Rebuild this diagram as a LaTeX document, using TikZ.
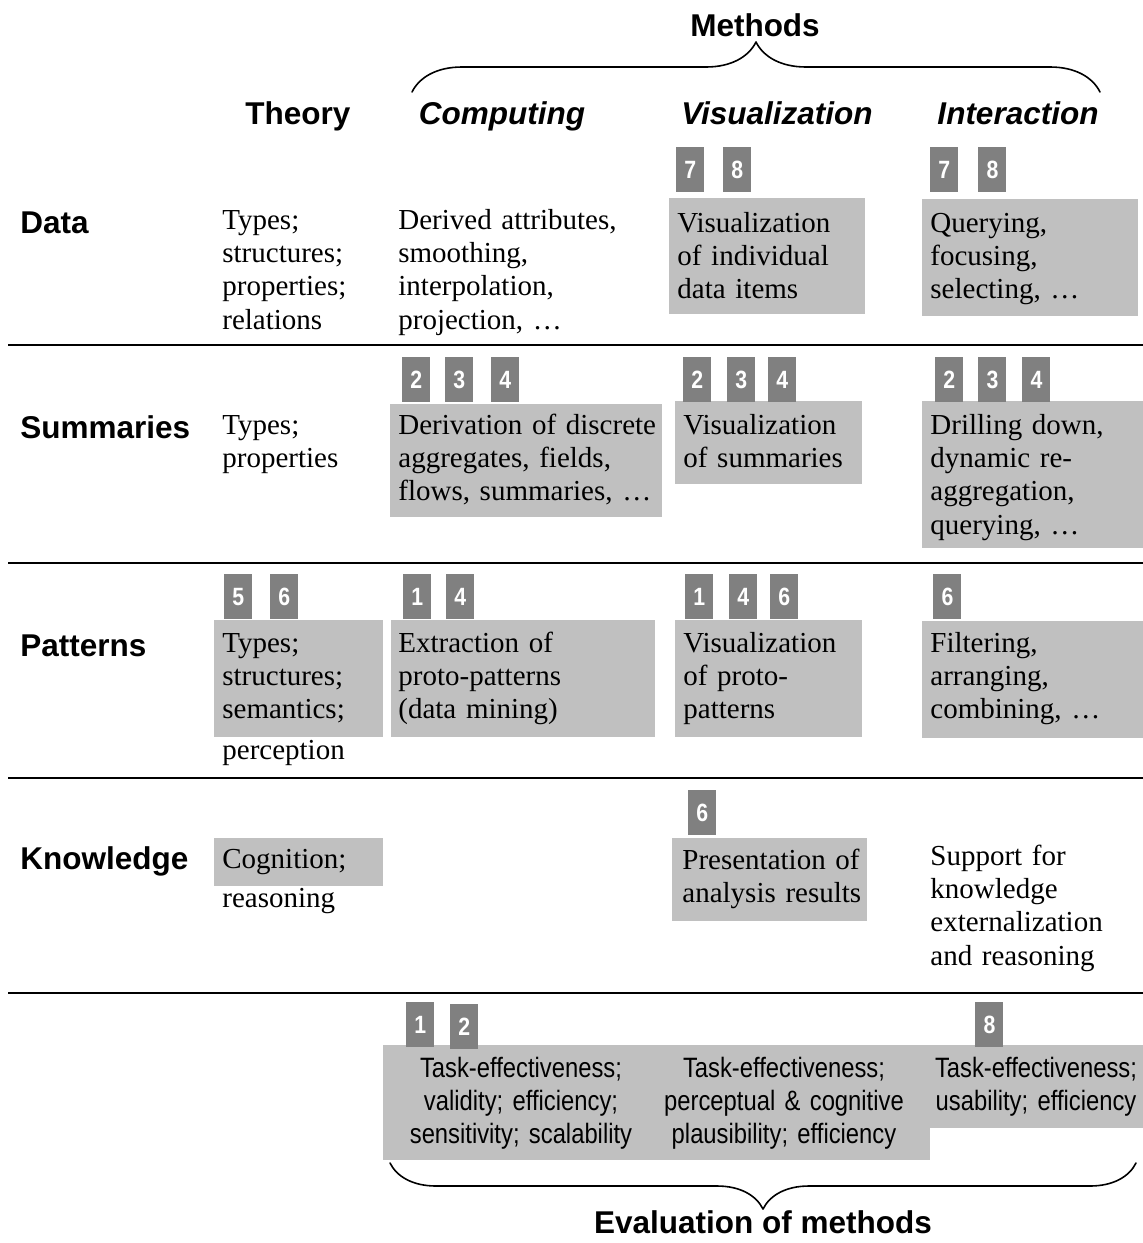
\documentclass[tikz,border=0pt]{standalone}
\usepackage{fontspec}
\setmainfont{Liberation Serif}
\setsansfont{Liberation Sans}
\newfontfamily\narrowsans[FakeStretch=0.85]{Liberation Sans}
\usepackage{tikz}
\usetikzlibrary{decorations.pathreplacing}
\definecolor{cellgray}{RGB}{192,192,192}
\definecolor{badgegray}{RGB}{128,128,128}

\begin{document}
\begin{tikzpicture}[line cap=round,line join=round,x=0.5pt,y=-0.5pt,
    head/.style={anchor=base,inner sep=0pt,font=\sffamily\bfseries\fontsize{15.75}{18}\selectfont},
    rowhead/.style={head,anchor=base west},
    colhead/.style={head,font=\sffamily\bfseries\itshape\fontsize{15.75}{18}\selectfont},
    cell/.style={anchor=base west,align=left,text width=150pt,inner sep=0pt,
        font=\fontsize{14.5}{16.7}\selectfont},
    evaltext/.style={anchor=base,align=center,text width=125pt,inner sep=0pt,
        font=\narrowsans\fontsize{14}{16.5}\selectfont},
    badge/.style={anchor=north west,fill=badgegray,text=white,inner sep=0pt,
        minimum width=14pt,minimum height=22.5pt,
        font=\narrowsans\bfseries\fontsize{12.5}{12.5}\selectfont},
    rule/.style={line width=1.1pt,line cap=butt},
    bracket/.style={line width=0.8pt,decorate}]
        \useasboundingbox (0,0) rectangle (1143,1243);
        % headings
        \node[head] (methods) at (755,36) {Methods};
        \coordinate (mbl) at (412,92);
        \coordinate (mbr) at (1100,92);
        \draw [bracket,decoration={brace,amplitude=25pt}] (mbl) -- (mbr);
        \node[head] (theory) at (298,124) {Theory};
        \node[colhead] (computing) at (502,124) {Computing};
        \node[colhead] (visualization) at (777,124) {Visualization};
        \node[colhead] (interaction) at (1018,124) {Interaction};
        \node[rowhead] (data) at (20,233) {Data};
        \node[rowhead] (summaries) at (20,438) {Summaries};
        \node[rowhead] (patterns) at (20,656) {Patterns};
        \node[rowhead] (knowledge) at (20,869) {Knowledge};
        % separating rules
        \coordinate (ra1) at (8,345);  \coordinate (rb1) at (1143,345);
        \coordinate (ra2) at (8,563);  \coordinate (rb2) at (1143,563);
        \coordinate (ra3) at (8,778);  \coordinate (rb3) at (1143,778);
        \coordinate (ra4) at (8,993);  \coordinate (rb4) at (1143,993);
        \draw [rule] (ra1) -- (rb1);
        \draw [rule] (ra2) -- (rb2);
        \draw [rule] (ra3) -- (rb3);
        \draw [rule] (ra4) -- (rb4);
        % shaded cells
        \fill [cellgray] (669,198) rectangle (865,314);
        \fill [cellgray] (922,199) rectangle (1138,316);
        \fill [cellgray] (390,404) rectangle (662,517);
        \fill [cellgray] (675,401) rectangle (862,484);
        \fill [cellgray] (922,401) rectangle (1143,548);
        \fill [cellgray] (214,620) rectangle (383,737);
        \fill [cellgray] (391,620) rectangle (655,737);
        \fill [cellgray] (675,620) rectangle (862,737);
        \fill [cellgray] (922,621) rectangle (1143,738);
        \fill [cellgray] (214,838) rectangle (383,886);
        \fill [cellgray] (672,838) rectangle (867,921);
        \fill [cellgray] (383,1045) rectangle (930,1160);
        \fill [cellgray] (930,1045) rectangle (1143,1128);
        % data row
        \node[cell] (thdata) at (222,229) {Types;\\structures;\\properties;\\relations};
        \node[cell] (codata) at (398,229) {Derived attributes,\\smoothing,\\interpolation,\\projection, …};
        \node[cell] (vidata) at (677,232) {Visualization\\of individual\\data items};
        \node[cell] (indata) at (930,232) {Querying,\\focusing,\\selecting, …};
        \node[badge] (vid7) at (676,147) {7};
        \node[badge] (vid8) at (723,147) {8};
        \node[badge] (ind7) at (930,147) {7};
        \node[badge] (ind8) at (978,147) {8};
        % summaries row
        \node[cell] (thsum) at (222,434) {Types;\\properties};
        \node[cell] (cosum) at (398,434) {Derivation of discrete\\aggregates, fields,\\flows, summaries, …};
        \node[cell] (visum) at (683,434) {Visualization\\of summaries};
        \node[cell] (insum) at (930,434) {Drilling down,\\dynamic re-\\aggregation,\\querying, …};
        \node[badge] (cos2) at (402,357) {2};
        \node[badge] (cos3) at (445,357) {3};
        \node[badge] (cos4) at (491,357) {4};
        \node[badge] (vis2) at (683,357) {2};
        \node[badge] (vis3) at (727,357) {3};
        \node[badge] (vis4) at (768,357) {4};
        \node[badge] (ins2) at (935,357) {2};
        \node[badge] (ins3) at (978,357) {3};
        \node[badge] (ins4) at (1022,357) {4};
        % patterns row
        \node[cell] (thpat) at (222,652) {Types;\\structures;\\semantics;\\[3.5pt]perception};
        \node[cell] (copat) at (398,652) {Extraction of\\proto-patterns\\(data mining)};
        \node[cell] (vipat) at (683,652) {Visualization\\of proto-\\patterns};
        \node[cell] (inpat) at (930,652) {Filtering,\\arranging,\\combining, …};
        \node[badge] (thp5) at (224,574) {5};
        \node[badge] (thp6) at (270,574) {6};
        \node[badge] (cop1) at (403,574) {1};
        \node[badge] (cop4) at (446,574) {4};
        \node[badge] (vip1) at (685,574) {1};
        \node[badge] (vip4) at (729,574) {4};
        \node[badge] (vip6) at (770,574) {6};
        \node[badge] (inp6) at (933,574) {6};
        % knowledge row
        \node[cell] (thknow) at (222,868) {Cognition;\\[3pt]reasoning};
        \node[cell] (viknow) at (682,869) {Presentation of\\analysis results};
        \node[cell] (inknow) at (930,865) {Support for\\knowledge\\externalization\\and reasoning};
        \node[badge] (vik6) at (688,790) {6};
        % evaluation row
        \node[badge] (ev1) at (406,1002) {1};
        \node[badge] (ev2) at (450,1004) {2};
        \node[badge] (ev8) at (975,1002) {8};
        \node[evaltext] (evco) at (521,1077) {Task-effectiveness;\\validity; efficiency;\\sensitivity; scalability};
        \node[evaltext] (evvi) at (784,1077) {Task-effectiveness;\\perceptual \& cognitive\\plausibility; efficiency};
        \node[evaltext] (evin) at (1036,1077) {Task-effectiveness;\\usability; efficiency};
        \coordinate (ebl) at (390,1163);
        \coordinate (ebr) at (1136,1163);
        \draw [bracket,decoration={brace,mirror,amplitude=23pt}] (ebl) -- (ebr);
        \node[head] (evaluation) at (763,1233) {Evaluation of methods};
    \end{tikzpicture}
\end{document}
